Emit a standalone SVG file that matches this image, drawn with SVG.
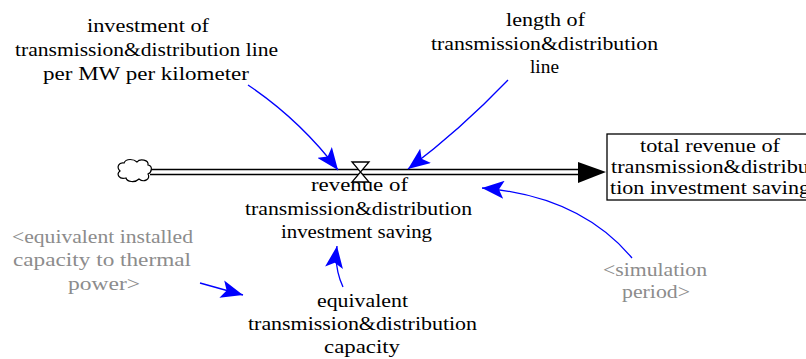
<svg xmlns="http://www.w3.org/2000/svg" width="806" height="359" viewBox="0 0 806 359">
<style>
text{font-family:"Liberation Serif","Times New Roman","Liberation Sans",serif;font-size:19px;text-anchor:middle;fill:#000}
.g{fill:#8c8c8c}
.lnk{fill:none;stroke:#0000ff;stroke-width:1.3}
.pipe{stroke:#000;stroke-width:1.3;fill:none}
</style>
<defs>
<marker id="ah" markerUnits="userSpaceOnUse" markerWidth="24" markerHeight="18" refX="22" refY="9" orient="auto"><path d="M0,0 L22,9 L0,18 L5,9 Z" fill="#0000ff"/></marker>
</defs>
<rect width="806" height="359" fill="#fff"/>
<g id="connectors">
<line class="pipe" x1="150" y1="169.5" x2="582" y2="169.5"/>
<line class="pipe" x1="150" y1="174.5" x2="582" y2="174.5"/>
<path d="M578,162 L606,172 L578,183 Z" fill="#000"/>
<path class="lnk" d="M248,85 Q300,120 338,170" marker-end="url(#ah)"/>
<path class="lnk" d="M508,80 Q460,130 408,169" marker-end="url(#ah)"/>
<path class="lnk" d="M632,258 Q580,196 482,188" marker-end="url(#ah)"/>
<path class="lnk" d="M200,283 L243,295" marker-end="url(#ah)"/>
<path class="lnk" d="M343,287 Q334,268 337,246" marker-end="url(#ah)"/>
</g>
<g id="cloud">
<path d="M124,163 C126,158 134,159 137,162 C140,158 149,160 148,165 C153,166 152,172 148,174 C151,179 144,183 139,179 C135,183 127,182 126,178 C119,180 116,174 120,171 C116,167 119,162 124,163 Z" fill="#fff" stroke="#000" stroke-width="1.2"/>
</g>
<g id="valve">
<path d="M352,162 L369,162 L352,182 L369,182 Z" fill="#fff" stroke="#000" stroke-width="1.3"/>
</g>
<g id="revenue">
<text x="359.5" y="191" textLength="97" lengthAdjust="spacingAndGlyphs">revenue of</text>
<text x="358.5" y="215" textLength="227" lengthAdjust="spacingAndGlyphs">transmission&amp;distribution</text>
<text x="356.5" y="238" textLength="151" lengthAdjust="spacingAndGlyphs">investment saving</text>
</g>
<g id="total">
<rect x="607" y="134" width="210" height="66" fill="#fff" stroke="#000" stroke-width="1.3"/>
<text x="710" y="152" textLength="140" lengthAdjust="spacingAndGlyphs">total revenue of</text>
<text x="710" y="173" textLength="198" lengthAdjust="spacingAndGlyphs">transmission&amp;distribu</text>
<text x="710" y="194" textLength="200" lengthAdjust="spacingAndGlyphs">tion investment saving</text>
</g>
<g id="investment">
<text x="148" y="32" textLength="122" lengthAdjust="spacingAndGlyphs">investment of</text>
<text x="146.5" y="56" textLength="263" lengthAdjust="spacingAndGlyphs">transmission&amp;distribution line</text>
<text x="146" y="80" textLength="206" lengthAdjust="spacingAndGlyphs">per MW per kilometer</text>
</g>
<g id="length">
<text x="545.5" y="26" textLength="79" lengthAdjust="spacingAndGlyphs">length of</text>
<text x="544.5" y="50" textLength="227" lengthAdjust="spacingAndGlyphs">transmission&amp;distribution</text>
<text x="544.5" y="73" textLength="29" lengthAdjust="spacingAndGlyphs">line</text>
</g>
<g id="eqinstalled">
<text class="g" x="102.5" y="243" textLength="181" lengthAdjust="spacingAndGlyphs">&lt;equivalent installed</text>
<text class="g" x="102" y="266" textLength="178" lengthAdjust="spacingAndGlyphs">capacity to thermal</text>
<text class="g" x="104" y="290" textLength="72" lengthAdjust="spacingAndGlyphs">power&gt;</text>
</g>
<g id="eqcapacity">
<text x="362.5" y="307" textLength="91" lengthAdjust="spacingAndGlyphs">equivalent</text>
<text x="362.5" y="330" textLength="229" lengthAdjust="spacingAndGlyphs">transmission&amp;distribution</text>
<text x="362" y="353" textLength="76" lengthAdjust="spacingAndGlyphs">capacity</text>
</g>
<g id="simperiod">
<text class="g" x="655" y="276" textLength="104" lengthAdjust="spacingAndGlyphs">&lt;simulation</text>
<text class="g" x="656" y="298" textLength="68" lengthAdjust="spacingAndGlyphs">period&gt;</text>
</g>
</svg>
